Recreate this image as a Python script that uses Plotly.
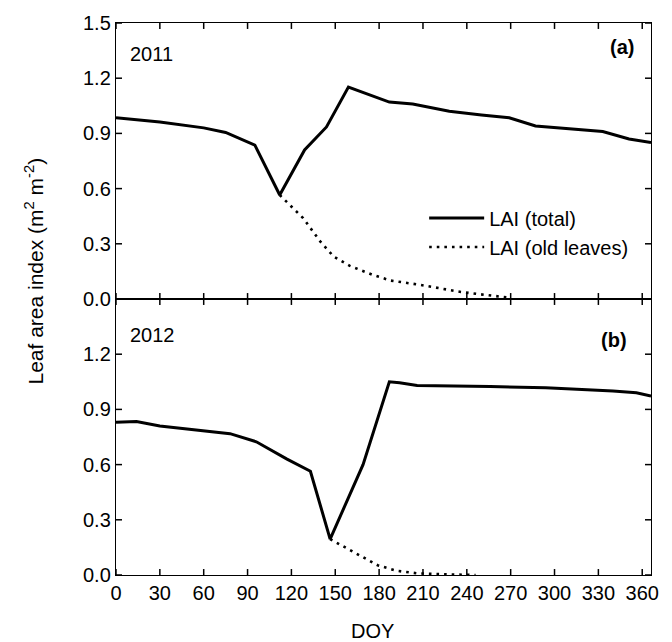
import plotly.graph_objects as go

# ---- data ----
doy_a_total = [0, 30, 60, 75, 95, 112, 129, 144, 159, 187, 203, 228, 250, 269, 287, 310, 333, 351, 366]
lai_a_total = [0.985, 0.962, 0.93, 0.905, 0.836, 0.565, 0.81, 0.935, 1.152, 1.07, 1.06, 1.02, 1.0, 0.985, 0.94, 0.925, 0.91, 0.87, 0.85]
doy_a_old = [112, 117, 128, 140, 149, 160, 176, 188, 208, 236, 255, 268]
lai_a_old = [0.565, 0.525, 0.44, 0.31, 0.23, 0.18, 0.13, 0.10, 0.077, 0.038, 0.02, 0.008]

doy_b_total = [0, 14, 30, 57, 78, 96, 117, 133, 146.5, 169, 187, 194, 206, 256, 294, 340, 356, 366]
lai_b_total = [0.83, 0.834, 0.81, 0.786, 0.768, 0.724, 0.63, 0.564, 0.195, 0.60, 1.05, 1.045, 1.03, 1.024, 1.018, 1.0, 0.99, 0.972]
doy_b_old = [146.5, 158, 168, 179, 192, 206, 230, 246]
lai_b_old = [0.195, 0.144, 0.098, 0.053, 0.023, 0.009, 0.003, 0.0]

x_ticks = list(range(0, 361, 30))
y_ticks_a = [0.0, 0.3, 0.6, 0.9, 1.2, 1.5]
y_ticks_b = [0.0, 0.3, 0.6, 0.9, 1.2]

X_RANGE = [0, 366]
Y_RANGE = [0, 1.5]

FONT = "Arial, Liberation Sans, sans-serif"
FS = 20
W, H = 672, 642
M = dict(l=116, r=21, t=19, b=67)
solid = dict(color="black", width=3)
dotted = dict(color="black", width=2.6, dash="2.6px,5px")

fig = go.Figure()
fig.add_trace(go.Scatter(x=doy_a_total, y=lai_a_total, mode="lines", line=solid,
                         name="LAI (total)", xaxis="x", yaxis="y"))
fig.add_trace(go.Scatter(x=doy_a_old, y=lai_a_old, mode="lines", line=dotted,
                         name="LAI (old leaves)", xaxis="x", yaxis="y"))
fig.add_trace(go.Scatter(x=doy_b_total, y=lai_b_total, mode="lines", line=solid,
                         showlegend=False, xaxis="x2", yaxis="y2"))
fig.add_trace(go.Scatter(x=doy_b_old, y=lai_b_old, mode="lines", line=dotted,
                         showlegend=False, xaxis="x2", yaxis="y2"))

# inside tick marks on all four sides of each panel, drawn as a line trace
plot_w = W - M["l"] - M["r"]
panel_h = (H - M["t"] - M["b"]) / 2
dx = 6 * (X_RANGE[1] - X_RANGE[0]) / plot_w      # 6 px in x data units
dy = 6 * (Y_RANGE[1] - Y_RANGE[0]) / panel_h     # 6 px in y data units
for xa, ya, yt in (("x", "y", y_ticks_a), ("x2", "y2", y_ticks_b)):
    tx, ty = [], []
    for t in x_ticks:
        tx += [t, t, None, t, t, None]
        ty += [Y_RANGE[0], Y_RANGE[0] + dy, None, Y_RANGE[1], Y_RANGE[1] - dy, None]
    for v in yt:
        tx += [X_RANGE[0], X_RANGE[0] + dx, None, X_RANGE[1], X_RANGE[1] - dx, None]
        ty += [v, v, None, v, v, None]
    fig.add_trace(go.Scatter(x=tx, y=ty, mode="lines", line=dict(color="black", width=1.5),
                             showlegend=False, hoverinfo="skip", connectgaps=False,
                             xaxis=xa, yaxis=ya, cliponaxis=False))

xcommon = dict(range=X_RANGE, tickmode="array", tickvals=x_ticks, ticks="",
               showline=True, linecolor="black", linewidth=1.4,
               mirror=True, showgrid=False, zeroline=False,
               tickfont=dict(family=FONT, size=FS, color="black"))
ycommon = dict(range=Y_RANGE, tickmode="array", showline=True, linecolor="black", linewidth=1.4,
               mirror=True, showgrid=False, zeroline=False, tickformat=".1f",
               ticks="", tickfont=dict(family=FONT, size=FS, color="black"))

fig.update_layout(
    width=W, height=H,
    margin=M,
    paper_bgcolor="white", plot_bgcolor="white",
    xaxis=dict(**xcommon, anchor="y", showticklabels=False),
    xaxis2=dict(**xcommon, anchor="y2"),
    yaxis=dict(**ycommon, domain=[0.5, 1], anchor="x", tickvals=y_ticks_a),
    yaxis2=dict(**ycommon, domain=[0, 0.5], anchor="x2", tickvals=y_ticks_b),
    legend=dict(x=0.576, y=0.682, xanchor="left", yanchor="top", bgcolor="rgba(0,0,0,0)",
                font=dict(family=FONT, size=FS, color="black"), itemwidth=55),
    font=dict(family=FONT, size=FS, color="black"),
)

fig.add_annotation(text="2011", x=0.022, y=0.888, xref="x domain", yref="y domain",
                   xanchor="left", yanchor="middle", showarrow=False, font=dict(size=FS))
fig.add_annotation(text="<b>(a)</b>", x=0.972, y=0.913, xref="x domain", yref="y domain",
                   xanchor="right", yanchor="middle", showarrow=False, font=dict(size=FS))
fig.add_annotation(text="2012", x=0.022, y=0.871, xref="x2 domain", yref="y2 domain",
                   xanchor="left", yanchor="middle", showarrow=False, font=dict(size=FS))
fig.add_annotation(text="<b>(b)</b>", x=0.959, y=0.853, xref="x2 domain", yref="y2 domain",
                   xanchor="right", yanchor="middle", showarrow=False, font=dict(size=FS))
fig.add_annotation(text="Leaf area index (m<sup>2</sup> m<sup>-2</sup>)", x=-0.153, y=0.55,
                   xref="paper", yref="paper", textangle=-90, showarrow=False,
                   xanchor="center", yanchor="middle", font=dict(size=21))
fig.add_annotation(text="DOY", x=0.48, y=-0.1007, xref="paper", yref="paper",
                   showarrow=False, xanchor="center", yanchor="middle", font=dict(size=FS))

fig.write_html("out.html")
